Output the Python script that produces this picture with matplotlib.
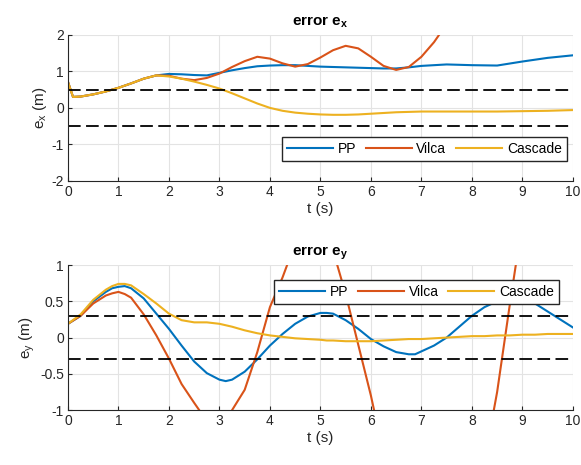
import matplotlib.pyplot as plt

plt.rcParams['font.family'] = ['Liberation Sans', 'DejaVu Sans']
plt.rcParams['mathtext.fontset'] = 'custom'
plt.rcParams['mathtext.rm'] = 'Liberation Sans'
plt.rcParams['mathtext.bf'] = 'Liberation Sans:bold'
plt.rcParams['mathtext.it'] = 'Liberation Sans'
plt.rcParams['axes.unicode_minus'] = False

# colours (matlab defaults)
c_pp = '#0072BD'
c_vilca = '#D95319'
c_casc = '#EDB120'

# ---- error e_x ----
t_x = [0, 0.1, 0.25, 0.5, 0.75, 1.0, 1.25, 1.5, 1.75, 2.0, 2.25, 2.5, 2.75, 3.0,
       3.25, 3.5, 3.75, 4.0, 4.25, 4.5, 4.75, 5.0, 5.25, 5.5, 5.75, 6.0, 6.25, 6.5,
       6.75, 7.0, 7.25, 7.5, 7.75, 8.0, 8.5, 9.0, 9.5, 10.0]
ex_pp = [0.71, 0.3, 0.31, 0.37, 0.45, 0.55, 0.67, 0.8, 0.89, 0.93, 0.92, 0.9, 0.89, 0.96,
         1.03, 1.09, 1.14, 1.16, 1.17, 1.17, 1.15, 1.13, 1.12, 1.11, 1.1, 1.09, 1.08, 1.08,
         1.11, 1.15, 1.17, 1.19, 1.18, 1.17, 1.16, 1.27, 1.37, 1.44]
ex_vilca = [0.71, 0.3, 0.31, 0.37, 0.45, 0.55, 0.67, 0.8, 0.89, 0.88, 0.8, 0.76, 0.82, 0.94,
            1.12, 1.28, 1.4, 1.35, 1.22, 1.13, 1.2, 1.38, 1.58, 1.7, 1.63, 1.4, 1.15, 1.04,
            1.12, 1.4, 1.8, 2.3, 2.9, 3.5, 4.5, 5.5, 6.5, 7.5]
ex_casc = [0.71, 0.3, 0.31, 0.37, 0.45, 0.55, 0.67, 0.8, 0.89, 0.86, 0.8, 0.72, 0.63, 0.53,
           0.4, 0.26, 0.12, 0.0, -0.08, -0.13, -0.16, -0.18, -0.19, -0.19, -0.18, -0.16, -0.14, -0.12,
           -0.11, -0.1, -0.1, -0.1, -0.1, -0.1, -0.1, -0.09, -0.08, -0.06]
ex_band = 0.5

# ---- error e_y ----
t_y = [0, 0.25, 0.5, 0.75, 0.875, 1.0, 1.125, 1.25, 1.5, 1.75, 2.0, 2.25, 2.5, 2.75, 3.0,
       3.125, 3.25, 3.5, 3.75, 4.0, 4.25, 4.5, 4.75, 5.0, 5.125, 5.25, 5.5, 5.75, 6.0, 6.25,
       6.5, 6.75, 6.875, 7.0, 7.25, 7.5, 7.75, 8.0, 8.25, 8.5, 8.75, 9.0, 9.25, 9.5, 9.75, 10.0]
ey_pp = [0.19, 0.3, 0.5, 0.63, 0.68, 0.7, 0.71, 0.68, 0.54, 0.33, 0.12, -0.11, -0.33, -0.49, -0.58,
         -0.6, -0.58, -0.47, -0.3, -0.11, 0.05, 0.19, 0.29, 0.34, 0.34, 0.33, 0.24, 0.12, -0.02, -0.12,
         -0.2, -0.23, -0.23, -0.19, -0.11, 0.0, 0.15, 0.3, 0.42, 0.5, 0.54, 0.54, 0.47, 0.36, 0.25, 0.14]
ey_vilca = [0.19, 0.3, 0.47, 0.58, 0.61, 0.63, 0.6, 0.55, 0.32, 0.03, -0.29, -0.64, -0.9, -1.15, -1.28,
            -1.25, -1.0, -0.72, -0.2, 0.42, 0.83, 1.3, 1.65, 1.7, 1.55, 1.2, 0.6, -0.1, -0.8, -1.6,
            -2.5, -3.2, -3.5, -3.6, -3.7, -3.5, -3.0, -2.4, -1.7, -0.75, 0.45, 1.6, 2.8, 3.8, 4.5, 5.0]
ey_casc = [0.19, 0.32, 0.52, 0.66, 0.71, 0.74, 0.74, 0.72, 0.6, 0.47, 0.33, 0.24, 0.21, 0.21, 0.19,
           0.17, 0.15, 0.1, 0.06, 0.03, 0.01, -0.01, -0.02, -0.03, -0.04, -0.04, -0.05, -0.05, -0.05, -0.04,
           -0.03, -0.02, -0.02, -0.02, -0.01, 0.0, 0.01, 0.02, 0.02, 0.03, 0.03, 0.04, 0.04, 0.05, 0.05, 0.05]
ey_band = 0.3

x_ticks = [0, 1, 2, 3, 4, 5, 6, 7, 8, 9, 10]
ex_ticks = [-2, -1, 0, 1, 2]
ex_labels = ['-2', '-1', '0', '1', '2']
ey_ticks = [-1, -0.5, 0, 0.5, 1]
ey_labels = ['-1', '-0.5', '0', '0.5', '1']

fig = plt.figure(figsize=(5.81, 4.65), dpi=100)
ax1 = fig.add_axes([0.117, 0.611, 0.869, 0.314])
ax2 = fig.add_axes([0.117, 0.118, 0.869, 0.312])


def style(ax, yt, yl):
    ax.set_xlim(0, 10)
    ax.set_xticks(x_ticks)
    ax.set_xticklabels([str(v) for v in x_ticks])
    ax.set_yticks(yt)
    ax.set_yticklabels(yl)
    ax.grid(True, color='#e3e3e3', linewidth=0.8)
    ax.set_axisbelow(True)
    ax.tick_params(direction='in', length=3, labelsize=10, color='#262626',
                   labelcolor='#262626', top=False, right=False, pad=3)
    ax.spines['top'].set_visible(False)
    ax.spines['right'].set_visible(False)
    for s in ['left', 'bottom']:
        ax.spines[s].set_color('#262626')
        ax.spines[s].set_linewidth(0.8)
    ax.set_xlabel('t (s)', fontsize=11, color='#262626', labelpad=2)


def legend(ax, loc, anchor):
    leg = ax.legend(ncol=3, loc=loc, bbox_to_anchor=anchor, fontsize=10,
                    frameon=True, fancybox=False, edgecolor='#262626', framealpha=1,
                    handlelength=3.3, columnspacing=0.7, handletextpad=0.35,
                    borderpad=0.35, borderaxespad=0)
    leg.get_frame().set_linewidth(1.0)


lw = 1.5
dash = (0, (7, 3))

ax1.plot(t_x, ex_pp, color=c_pp, lw=lw, label='PP')
ax1.plot(t_x, ex_vilca, color=c_vilca, lw=lw, label='Vilca')
ax1.plot(t_x, ex_casc, color=c_casc, lw=lw, label='Cascade')
ax1.axhline(ex_band, color='black', ls=dash, lw=1.3)
ax1.axhline(-ex_band, color='black', ls=dash, lw=1.3)
ax1.set_ylim(-2, 2)
style(ax1, ex_ticks, ex_labels)
ax1.set_ylabel('e$_x$ (m)', fontsize=11, color='#262626', labelpad=2)
ax1.set_title(r'error $\mathbf{e_x}$', fontsize=11, fontweight='bold', pad=7)
legend(ax1, 'lower right', (0.9875, 0.137))

ax2.plot(t_y, ey_pp, color=c_pp, lw=lw, label='PP')
ax2.plot(t_y, ey_vilca, color=c_vilca, lw=lw, label='Vilca')
ax2.plot(t_y, ey_casc, color=c_casc, lw=lw, label='Cascade')
ax2.axhline(ey_band, color='black', ls=dash, lw=1.3)
ax2.axhline(-ey_band, color='black', ls=dash, lw=1.3)
ax2.set_ylim(-1, 1)
style(ax2, ey_ticks, ey_labels)
ax2.set_ylabel('e$_y$ (m)', fontsize=11, color='#262626', labelpad=2)
ax2.set_title(r'error $\mathbf{e_y}$', fontsize=11, fontweight='bold', pad=7)
legend(ax2, 'upper right', (0.972, 0.897))

fig.savefig('out.png', dpi=100)
